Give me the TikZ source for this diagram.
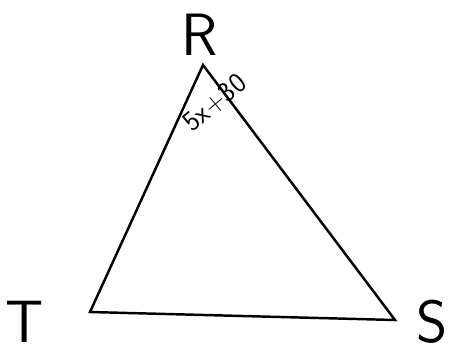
\documentclass[tikz,border=0pt]{standalone}
\usepackage{tikz}

\begin{document}
\begin{tikzpicture}[
    side/.style={line width=1.4pt, black, line cap=round},
    vlabel/.style={font=\sffamily\fontsize{34}{36}\selectfont},
    anglabel/.style={font=\sffamily\fontsize{16}{17}\selectfont, rotate=40, inner sep=1pt}
  ]
  \useasboundingbox (0,0) rectangle (9.3,7.12);
  %% Vertices
  \coordinate (r) at (4.06,5.82);
  \coordinate (t) at (1.80,0.88);
  \coordinate (s) at (7.90,0.72);
  %% Sides
  \draw[side] (r) -- (t) -- (s) -- cycle;
  %% Vertex labels
  \node[vlabel] (lr) at (4.00,6.42) {R};
  \node[vlabel] (lt) at (0.50,0.68) {T};
  \node[vlabel] (ls) at (8.64,0.68) {S};
  %% Angle at R
  \node[anglabel] (ang) at (4.30,5.06) {5x+30};
\end{tikzpicture}
\end{document}
